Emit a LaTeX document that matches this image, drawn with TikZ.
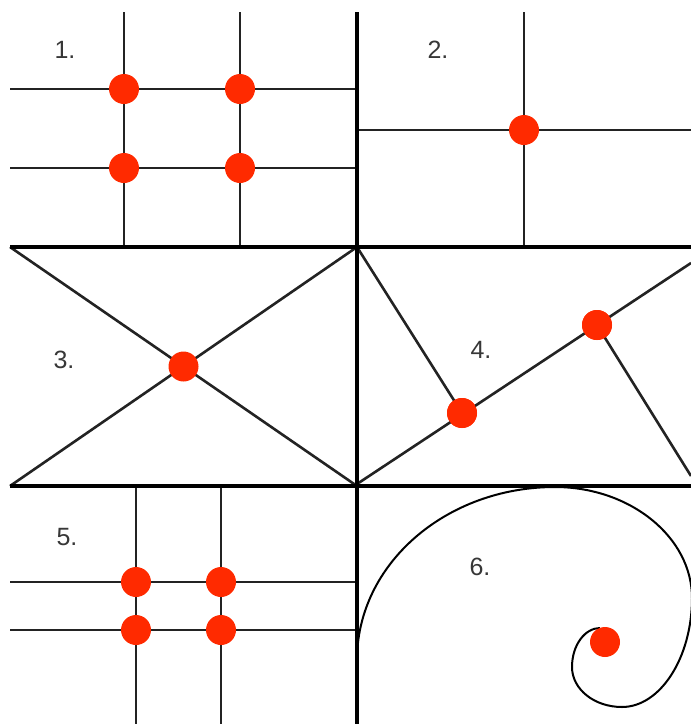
\documentclass[tikz,border=0pt]{standalone}
\usepackage{fontspec}
\setmainfont{Liberation Sans}
\definecolor{dotred}{RGB}{255,42,0}
\definecolor{lineink}{RGB}{35,35,35}
\definecolor{labelgrey}{RGB}{55,55,55}

\begin{document}
\begin{tikzpicture}[x=1pt,y=-1pt,
  guide/.style={draw=lineink,line width=2.6pt},
  frame/.style={draw=black,line width=4.6pt},
  curl/.style={draw=black,line width=2pt},
  spot/.style={circle,fill=dotred,inner sep=0pt,minimum size=30pt},
  num/.style={font=\fontsize{25}{25}\selectfont,text=labelgrey}]

\useasboundingbox (0,0) rectangle (691,724);
\clip (0,0) rectangle (691,724);

% 1. thirds grid
\foreach \x in {124,240} \draw[guide] (\x,12) -- (\x,247);
\foreach \y in {89,168} \draw[guide] (10,\y) -- (357,\y);
\foreach \x in {124,240} \foreach \y in {89,168}
  \node[spot] (one-\x-\y) at (\x,\y) {};
\node[num] (lone) at (65,50) {1.};

% 2. single cross
\coordinate (twoT) at (524,12);  \coordinate (twoB) at (524,247);
\coordinate (twoL) at (357,130); \coordinate (twoR) at (691,130);
\draw[guide] (twoT) -- (twoB);
\draw[guide] (twoL) -- (twoR);
\node[spot] (two) at (524,130) {};
\node[num] (ltwo) at (438,50) {2.};

% 3. diagonals
\coordinate (thrTL) at (10,247);  \coordinate (thrBR) at (357,486);
\coordinate (thrBL) at (10,486);  \coordinate (thrTR) at (357,247);
\draw[guide] (thrTL) -- (thrBR);
\draw[guide] (thrBL) -- (thrTR);
\node[spot] (three) at (183.5,366.5) {};
\node[num] (lthree) at (64,360) {3.};

% 4. diagonal with perpendiculars
\coordinate (fouTL) at (357,247); \coordinate (fouBL) at (357,484);
\coordinate (fouTR) at (691,263); \coordinate (fouBR) at (691,476);
\node[spot] (fouA) at (462,413) {};
\node[spot] (fouB) at (597,325) {};
\draw[guide] (fouBL) -- (fouTR);
\draw[guide] (fouTL) -- (fouA.center);
\draw[guide] (fouB.center) -- (fouBR);
\node[spot] at (fouA) {};
\node[spot] at (fouB) {};
\node[num] (lfour) at (481,350) {4.};

% 5. narrow grid
\foreach \x in {136,221} \draw[guide] (\x,486) -- (\x,724);
\foreach \y in {582,630} \draw[guide] (10,\y) -- (357,\y);
\foreach \x in {136,221} \foreach \y in {582,630}
  \node[spot] (five-\x-\y) at (\x,\y) {};
\node[num] (lfive) at (67,537) {5.};

% 6. spiral
\coordinate (sp0) at (357,660);
\coordinate (sp1) at (555,487);
\coordinate (sp2) at (692,598);
\coordinate (sp3) at (622,707);
\coordinate (sp4) at (572,667);
\coordinate (sp5) at (600,628);
\draw[curl] (sp0) .. controls (357,564) and (446,487) .. (sp1)
  .. controls (630,487) and (692,537) .. (sp2)
  .. controls (692,658) and (660,707) .. (sp3)
  .. controls (594,707) and (572,689) .. (sp4)
  .. controls (572,645) and (585,628) .. (sp5);
\node[spot] (six) at (605,642) {};
\node[num] (lsix) at (480,567) {6.};

% frame lines
\draw[frame] (357,12) -- (357,724);
\draw[frame] (10,247) -- (691,247);
\draw[frame] (10,486) -- (691,486);
\end{tikzpicture}
\end{document}
